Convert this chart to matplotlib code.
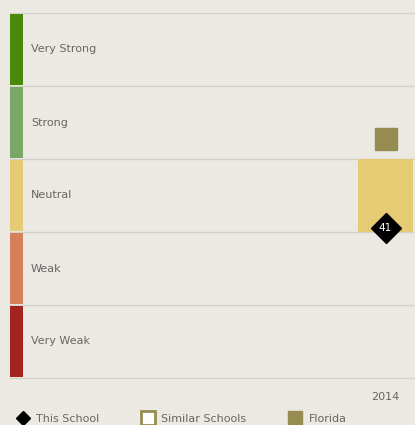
import matplotlib
matplotlib.use("Agg")
import matplotlib.pyplot as plt
import matplotlib.transforms as mtransforms
from matplotlib.patches import Rectangle
from matplotlib.lines import Line2D

# bands (bottom -> top), scale 0..100
bands = ["Very Weak", "Weak", "Neutral", "Strong", "Very Strong"]
band_edges = [0, 20, 40, 60, 80, 100]
band_colors = ["#a3241f", "#d4805a", "#e6cb75", "#78a766", "#4a8a0a"]

years = ["2014"]
this_school = [41]
similar_low = [40]
similar_high = [60]
florida = [65.5]

bg = "#ebe9e1"
olive = "#968c52"
txt = "#666666"

fig = plt.figure(figsize=(4.15, 4.25), dpi=100, facecolor=bg)
W, H = 415, 425
ax = fig.add_axes([10 / W, (H - 378) / H, 405 / W, 365 / H], facecolor=bg)
ax.set_ylim(band_edges[0], band_edges[-1])
ax.set_xlim(-6.83, 0.536)
for s in ax.spines.values():
    s.set_visible(False)

# band gridlines
for e in band_edges:
    ax.axhline(e, color="#d2d1cc", lw=1.0, zorder=1, clip_on=False)

# color bands at left
trans = mtransforms.blended_transform_factory(ax.transAxes, ax.transData)
for i, name in enumerate(bands):
    lo, hi = band_edges[i] + 0.25, band_edges[i + 1] - 0.25
    ax.add_patch(Rectangle((0, lo), 13 / 405, hi - lo, transform=trans,
                           facecolor=band_colors[i], edgecolor="none", zorder=2))
    ax.text(21 / 405, (band_edges[i] + band_edges[i + 1]) / 2, name, transform=trans,
            ha="left", va="center", fontsize=8, color=txt)

xs = list(range(len(years)))
# similar schools range, coloured by band
for x, lo, hi in zip(xs, similar_low, similar_high):
    k = band_edges.index(lo)
    ax.bar(x, hi - lo, bottom=lo, width=1.0, color=band_colors[k], zorder=3)

ax.plot(xs, florida, "s", ms=16.5, color=olive, zorder=4)
ax.plot(xs, this_school, "D", ms=15.5, color="black", zorder=5)
for x, v in zip(xs, this_school):
    ax.text(x, v, str(v), color="white", fontsize=7.5, ha="center", va="center", zorder=6)

ax.set_xticks(xs)
ax.set_xticklabels(years, fontsize=8, color=txt)
ax.set_yticks([])
ax.tick_params(axis="x", length=0, pad=10)

handles = [
    Line2D([], [], marker="D", ls="none", color="black", ms=7),
    Line2D([], [], marker="s", ls="none", mfc="white", mec=olive, mew=2, ms=10),
    Line2D([], [], marker="s", ls="none", color=olive, ms=10),
]
fig.legend(handles, ["This School", "Similar Schools", "Florida"], loc="center left",
           bbox_to_anchor=(6 / W, 1 - 419 / H), ncol=3, frameon=False, fontsize=8,
           labelcolor=txt, handlelength=1.2, handletextpad=0.6, columnspacing=3.8)

fig.savefig("out.png", dpi=100, facecolor=bg)
